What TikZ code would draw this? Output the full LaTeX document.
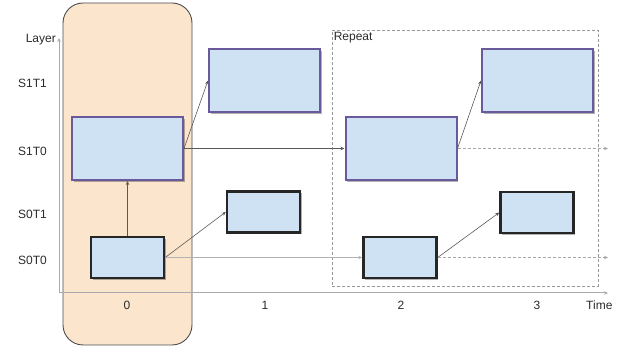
\documentclass[tikz,border=0pt]{standalone}
\usepackage{fontspec}
\setmainfont{Liberation Sans}
\usetikzlibrary{arrows.meta,shadows}
\definecolor{peach}{HTML}{FCE5CD}
\definecolor{cellblue}{HTML}{CFE2F3}
\definecolor{purpleedge}{HTML}{6A5A9C}
\definecolor{inkgray}{HTML}{2A2A2A}
\definecolor{axisgray}{HTML}{AAAAAA}
\tikzset{
  lbl/.style={font=\fontsize{12}{14}\selectfont, text=inkgray, inner sep=0pt},
  cellshadow/.style={drop shadow={shadow xshift=1.8pt, shadow yshift=-1.8pt, opacity=0.3, fill=black}},
  bigcell/.style={draw=purpleedge, line width=2pt, fill=cellblue, minimum width=111pt, minimum height=63pt, inner sep=0pt, cellshadow},
  smallcell/.style={draw=black!85, line width=2.4pt, fill=cellblue, minimum width=73pt, minimum height=41pt, inner sep=0pt, cellshadow},
  stagebox/.style={draw=black!70, line width=0.9pt, fill=peach, rounded corners=20pt, minimum width=129pt, minimum height=342pt, inner sep=0pt},
  repeatbox/.style={draw=gray!80, densely dashed, line width=0.8pt, minimum width=266pt, minimum height=256pt, inner sep=0pt},
  tip/.style={-{Stealth[length=4pt,width=3.5pt]}},
  link/.style={tip, draw=black!65, line width=0.6pt},
  carry/.style={tip, draw=gray!60, line width=1.3pt},
  onward/.style={tip, draw=gray!70, densely dashed, line width=0.8pt},
  axis/.style={tip, draw=axisgray, line width=1pt},
}
\begin{document}
\begin{tikzpicture}[x=1pt, y=-1pt]
  \useasboundingbox (0,0) rectangle (619,347);

  % highlighted first time step
  \node[stagebox] (stage) at (127.5,174) {};

  % axes
  \coordinate (origin) at (59,293);
  \coordinate (ytop) at (59,38);
  \coordinate (xend) at (608,293);
  \draw[axis] (origin) -- (ytop);
  \draw[axis] (origin) -- (xend);

  % axis labels
  \node[lbl, anchor=east] (layer) at (56,40) {Layer};
  \node[lbl, anchor=west] (s1t1) at (18,83) {S1T1};
  \node[lbl, anchor=west] (s1t0) at (18,151) {S1T0};
  \node[lbl, anchor=west] (s0t1) at (18,214) {S0T1};
  \node[lbl, anchor=west] (s0t0) at (18,260) {S0T0};
  \node[lbl] (t0) at (127,305) {0};
  \node[lbl] (t1) at (265,305) {1};
  \node[lbl] (t2) at (401,305) {2};
  \node[lbl] (t3) at (537,305) {3};
  \node[lbl, anchor=west] (time) at (586,305) {Time};

  % repeated region
  \node[repeatbox] (rep) at (465,158) {};
  \node[lbl, anchor=north west] (replbl) at ([xshift=2pt,yshift=-2.5pt]rep.north west) {Repeat};

  % cells
  \node[bigcell] (a10) at (127.5,148.5) {};
  \node[smallcell] (a00) at (127.5,257.5) {};
  \node[bigcell] (b11) at (264.5,80.5) {};
  \node[smallcell] (b01) at (263.5,212) {};
  \node[bigcell] (c10) at (401,148.5) {};
  \node[smallcell] (c00) at (400,257.5) {};
  \node[bigcell] (d11) at (537.5,80.5) {};
  \node[smallcell] (d01) at (537,212.5) {};

  % free ends of the continuing links
  \coordinate (e10) at (608,148.5);
  \coordinate (e00) at (608,257.5);

  % connectors
  \draw[link] (a00.north) -- (a10.south);
  \draw[link] (a10.east) -- (b11.west);
  \draw[link] (a10.east) -- (c10.west);
  \draw[link] (a00.east) -- (b01.west);
  \draw[carry] (a00.east) -- (c00.west);
  \draw[link] (c10.east) -- (d11.west);
  \draw[link] (c00.east) -- (d01.west);
  \draw[onward] (c10.east) -- (e10);
  \draw[onward] (c00.east) -- (e00);
\end{tikzpicture}
\end{document}
